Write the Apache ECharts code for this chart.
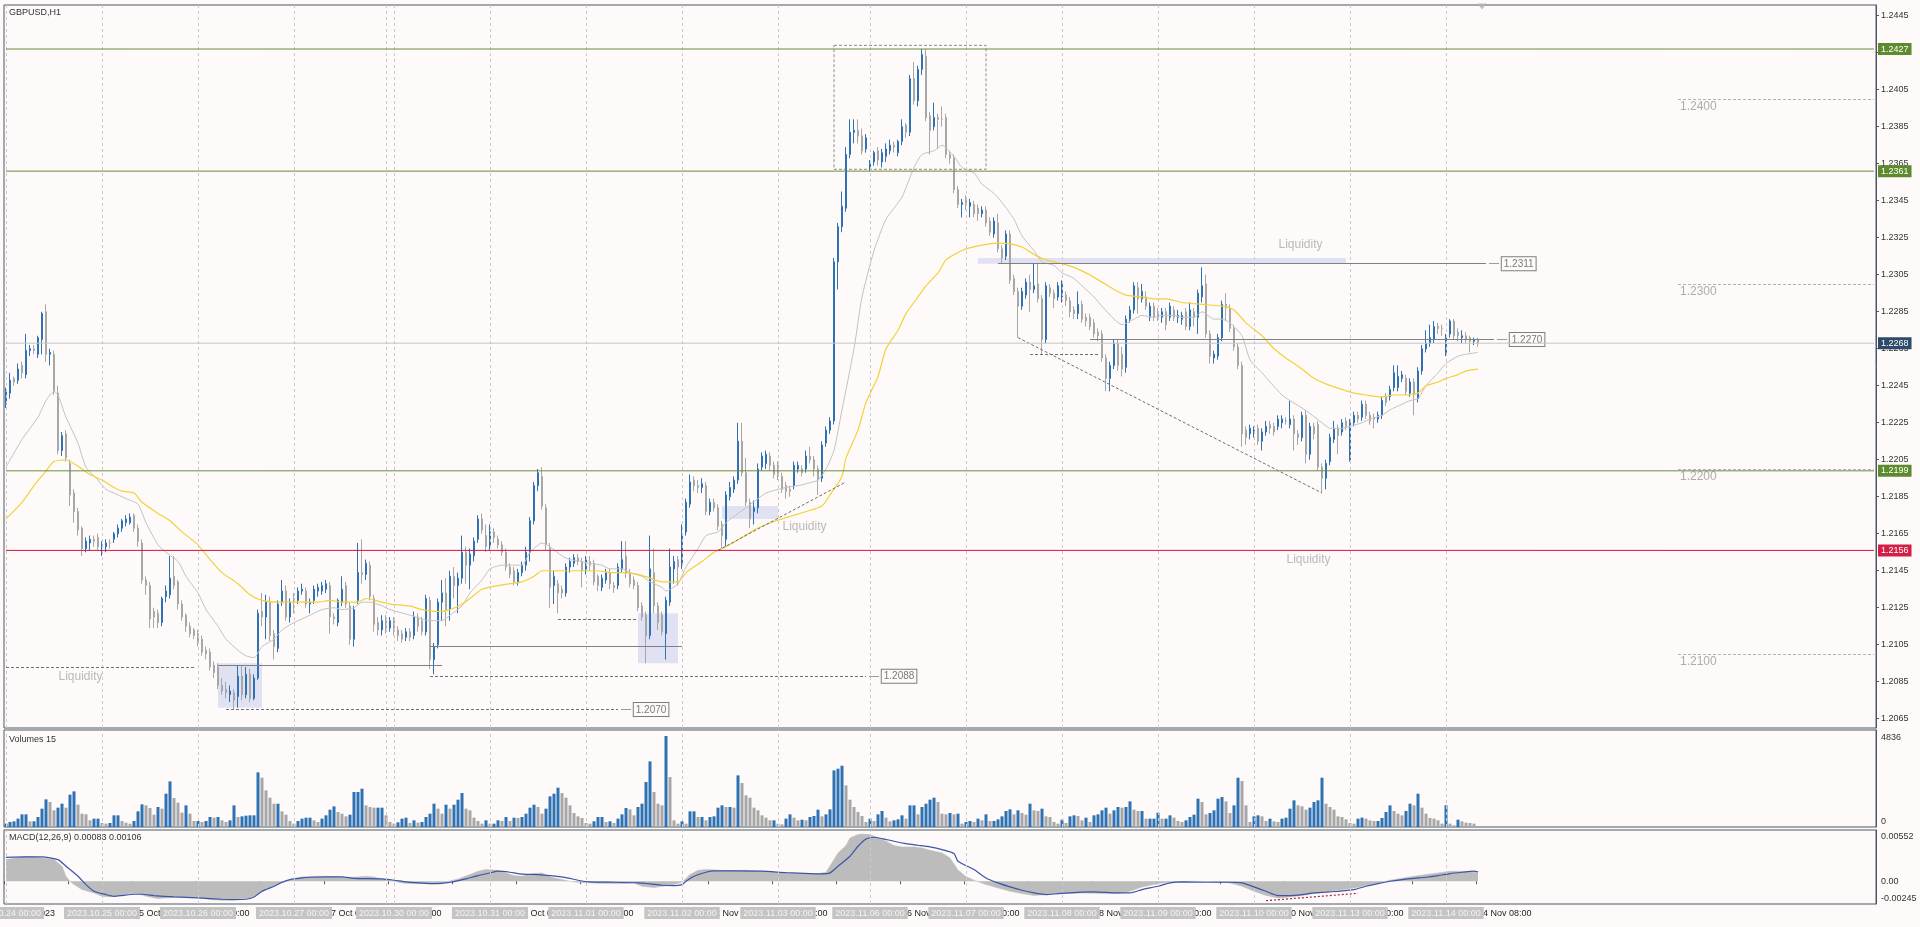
<!DOCTYPE html>
<html><head><meta charset="utf-8">
<script src="https://cdn.jsdelivr.net/npm/echarts@6/dist/echarts.min.js"></script>
<style>html,body{margin:0;padding:0;background:#fefaf9;overflow:hidden}#c{width:1920px;height:927px}</style>
</head><body><div id="c"></div><script>
// ---------- DATA ----------
const symbolTitle = 'GBPUSD,H1';
const volumesTitle = 'Volumes 15';
const macdTitle = 'MACD(12,26,9) 0.00083 0.00106';

// H1 candles: [open, close, low, high]
const ohlc = [
[1.2235,1.2242,1.2233,1.2244],[1.2241,1.2248,1.2238,1.2252],[1.2249,1.2247,1.2245,1.2250],[1.2248,1.2254,1.2246,1.2257],[1.2256,1.2252,1.2249,1.2258],
[1.2251,1.2264,1.2249,1.2273],[1.2264,1.2265,1.2261,1.2267],[1.2265,1.2264,1.2262,1.2267],[1.2262,1.2271,1.2260,1.2272],[1.2270,1.2284,1.2262,1.2285],
[1.2285,1.2262,1.2258,1.2289],[1.2262,1.2263,1.2256,1.2265],[1.2262,1.2242,1.2240,1.2264],[1.2241,1.2210,1.2208,1.2245],[1.2210,1.2218,1.2207,1.2220],
[1.2219,1.2206,1.2204,1.2221],[1.2203,1.2186,1.2180,1.2205],[1.2187,1.2177,1.2171,1.2189],[1.2177,1.2167,1.2164,1.2179],[1.2168,1.2157,1.2153,1.2169],
[1.2157,1.2161,1.2155,1.2163],[1.2160,1.2162,1.2156,1.2164],[1.2162,1.2161,1.2158,1.2164],[1.2163,1.2158,1.2156,1.2165],[1.2158,1.2159,1.2153,1.2161],
[1.2158,1.2160,1.2155,1.2162],[1.2160,1.2160,1.2157,1.2162],[1.2162,1.2165,1.2160,1.2166],[1.2165,1.2168,1.2163,1.2170],[1.2168,1.2172,1.2166,1.2173],
[1.2171,1.2173,1.2169,1.2175],[1.2171,1.2174,1.2170,1.2176],[1.2175,1.2168,1.2166,1.2176],[1.2168,1.2161,1.2158,1.2170],[1.2160,1.2140,1.2138,1.2162],
[1.2140,1.2137,1.2132,1.2142],[1.2137,1.2119,1.2114,1.2139],[1.2123,1.2120,1.2114,1.2125],[1.2122,1.2117,1.2114,1.2124],[1.2117,1.2130,1.2115,1.2131],
[1.2131,1.2134,1.2128,1.2137],[1.2132,1.2141,1.2130,1.2153],[1.2142,1.2137,1.2135,1.2153],[1.2139,1.2127,1.2124,1.2140],[1.2127,1.2120,1.2118,1.2129],
[1.2121,1.2115,1.2112,1.2122],[1.2115,1.2111,1.2109,1.2117],[1.2113,1.2110,1.2108,1.2114],[1.2111,1.2106,1.2104,1.2113],[1.2108,1.2101,1.2099,1.2110],
[1.2102,1.2100,1.2097,1.2104],[1.2101,1.2093,1.2091,1.2103],[1.2094,1.2090,1.2087,1.2096],[1.2093,1.2083,1.2081,1.2095],[1.2083,1.2080,1.2078,1.2087],
[1.2081,1.2079,1.2076,1.2085],[1.2078,1.2080,1.2074,1.2083],[1.2079,1.2075,1.2070,1.2081],[1.2077,1.2088,1.2071,1.2094],[1.2088,1.2078,1.2075,1.2094],
[1.2078,1.2089,1.2076,1.2093],[1.2089,1.2076,1.2074,1.2092],[1.2076,1.2087,1.2075,1.2089],[1.2087,1.2122,1.2086,1.2124],[1.2123,1.2120,1.2115,1.2133],
[1.2120,1.2128,1.2108,1.2132],[1.2128,1.2110,1.2107,1.2131],[1.2111,1.2104,1.2097,1.2113],[1.2103,1.2127,1.2101,1.2129],[1.2128,1.2134,1.2126,1.2140],
[1.2134,1.2120,1.2118,1.2137],[1.2120,1.2128,1.2117,1.2130],[1.2130,1.2128,1.2122,1.2133],[1.2129,1.2134,1.2127,1.2136],[1.2134,1.2135,1.2132,1.2138],
[1.2134,1.2127,1.2125,1.2136],[1.2127,1.2128,1.2122,1.2130],[1.2129,1.2135,1.2127,1.2137],[1.2134,1.2136,1.2131,1.2138],[1.2134,1.2137,1.2132,1.2139],
[1.2135,1.2138,1.2133,1.2140],[1.2137,1.2120,1.2111,1.2139],[1.2120,1.2119,1.2116,1.2122],[1.2117,1.2129,1.2115,1.2130],[1.2128,1.2135,1.2126,1.2142],
[1.2137,1.2127,1.2125,1.2139],[1.2126,1.2108,1.2105,1.2128],[1.2108,1.2124,1.2104,1.2126],[1.2129,1.2144,1.2127,1.2160],[1.2144,1.2143,1.2138,1.2162],
[1.2143,1.2149,1.2140,1.2151],[1.2148,1.2131,1.2129,1.2150],[1.2130,1.2116,1.2112,1.2132],[1.2117,1.2113,1.2110,1.2120],[1.2113,1.2118,1.2110,1.2121],
[1.2118,1.2114,1.2111,1.2121],[1.2114,1.2118,1.2112,1.2120],[1.2118,1.2114,1.2110,1.2120],[1.2113,1.2110,1.2107,1.2115],[1.2111,1.2108,1.2106,1.2113],
[1.2109,1.2112,1.2107,1.2114],[1.2112,1.2109,1.2107,1.2114],[1.2110,1.2120,1.2108,1.2123],[1.2120,1.2115,1.2112,1.2122],[1.2118,1.2112,1.2110,1.2120],
[1.2112,1.2130,1.2110,1.2132],[1.2129,1.2097,1.2092,1.2131],[1.2097,1.2104,1.2089,1.2106],[1.2105,1.2128,1.2103,1.2130],[1.2128,1.2133,1.2118,1.2140],
[1.2133,1.2124,1.2115,1.2141],[1.2124,1.2142,1.2118,1.2145],[1.2142,1.2137,1.2130,1.2147],[1.2137,1.2141,1.2122,1.2144],[1.2141,1.2155,1.2138,1.2164],
[1.2155,1.2148,1.2138,1.2158],[1.2148,1.2154,1.2135,1.2157],[1.2153,1.2161,1.2150,1.2163],[1.2162,1.2173,1.2160,1.2175],[1.2173,1.2167,1.2165,1.2176],
[1.2164,1.2158,1.2155,1.2170],[1.2158,1.2166,1.2156,1.2170],[1.2166,1.2163,1.2160,1.2168],[1.2162,1.2159,1.2157,1.2164],[1.2159,1.2155,1.2153,1.2161],
[1.2155,1.2147,1.2145,1.2157],[1.2147,1.2143,1.2141,1.2149],[1.2145,1.2139,1.2137,1.2147],[1.2139,1.2144,1.2137,1.2146],[1.2144,1.2148,1.2142,1.2150],
[1.2148,1.2155,1.2145,1.2158],[1.2155,1.2172,1.2150,1.2174],[1.2172,1.2191,1.2170,1.2193],[1.2191,1.2198,1.2188,1.2200],[1.2196,1.2180,1.2178,1.2201],
[1.2179,1.2159,1.2156,1.2181],[1.2157,1.2136,1.2125,1.2160],[1.2137,1.2142,1.2127,1.2145],[1.2138,1.2133,1.2122,1.2140],[1.2135,1.2133,1.2130,1.2137],
[1.2133,1.2147,1.2131,1.2149],[1.2147,1.2150,1.2144,1.2152],[1.2149,1.2152,1.2147,1.2154],[1.2152,1.2150,1.2148,1.2154],[1.2150,1.2145,1.2136,1.2152],
[1.2145,1.2151,1.2143,1.2153],[1.2150,1.2148,1.2145,1.2153],[1.2149,1.2139,1.2137,1.2151],[1.2142,1.2137,1.2134,1.2143],[1.2136,1.2141,1.2134,1.2143],
[1.2140,1.2144,1.2138,1.2146],[1.2144,1.2138,1.2135,1.2146],[1.2137,1.2136,1.2133,1.2139],[1.2137,1.2147,1.2135,1.2149],[1.2146,1.2151,1.2144,1.2161],
[1.2153,1.2144,1.2141,1.2161],[1.2144,1.2138,1.2136,1.2146],[1.2140,1.2137,1.2135,1.2142],[1.2137,1.2125,1.2123,1.2139],[1.2126,1.2120,1.2118,1.2128],
[1.2121,1.2110,1.2095,1.2123],[1.2110,1.2146,1.2108,1.2164],[1.2144,1.2126,1.2122,1.2157],[1.2126,1.2117,1.2113,1.2128],[1.2121,1.2112,1.2110,1.2123],
[1.2111,1.2129,1.2097,1.2131],[1.2128,1.2147,1.2126,1.2157],[1.2146,1.2150,1.2138,1.2153],[1.2151,1.2147,1.2137,1.2153],[1.2148,1.2165,1.2146,1.2170],
[1.2166,1.2182,1.2164,1.2184],[1.2181,1.2193,1.2179,1.2197],[1.2194,1.2191,1.2188,1.2196],[1.2191,1.2190,1.2187,1.2194],[1.2190,1.2192,1.2187,1.2195],
[1.2191,1.2177,1.2175,1.2193],[1.2177,1.2182,1.2175,1.2184],[1.2182,1.2179,1.2177,1.2184],[1.2179,1.2169,1.2167,1.2181],[1.2170,1.2164,1.2157,1.2172],
[1.2162,1.2186,1.2158,1.2188],[1.2185,1.2190,1.2183,1.2193],[1.2189,1.2194,1.2187,1.2196],[1.2194,1.2215,1.2192,1.2225],[1.2215,1.2198,1.2196,1.2225],
[1.2198,1.2182,1.2180,1.2206],[1.2182,1.2173,1.2168,1.2184],[1.2177,1.2179,1.2170,1.2183],[1.2179,1.2200,1.2176,1.2203],[1.2201,1.2207,1.2199,1.2209],
[1.2203,1.2208,1.2200,1.2210],[1.2207,1.2202,1.2199,1.2209],[1.2202,1.2197,1.2195,1.2204],[1.2202,1.2196,1.2194,1.2204],[1.2196,1.2189,1.2187,1.2198],
[1.2191,1.2188,1.2184,1.2193],[1.2189,1.2188,1.2185,1.2191],[1.2191,1.2202,1.2189,1.2204],[1.2200,1.2202,1.2198,1.2204],[1.2200,1.2198,1.2196,1.2202],
[1.2200,1.2207,1.2198,1.2210],[1.2207,1.2205,1.2203,1.2212],[1.2205,1.2200,1.2196,1.2207],[1.2200,1.2194,1.2186,1.2202],[1.2195,1.2213,1.2193,1.2215],
[1.2214,1.2221,1.2212,1.2223],[1.2221,1.2226,1.2219,1.2228],[1.2226,1.2312,1.2224,1.2314],[1.2312,1.2331,1.2297,1.2333],[1.2331,1.2342,1.2328,1.2350],
[1.2341,1.2370,1.2339,1.2374],[1.2370,1.2382,1.2368,1.2389],[1.2382,1.2383,1.2376,1.2389],[1.2383,1.2380,1.2376,1.2389],[1.2380,1.2372,1.2370,1.2384],
[1.2373,1.2379,1.2371,1.2381],[1.2362,1.2365,1.2361,1.2367],[1.2366,1.2371,1.2364,1.2372],[1.2372,1.2367,1.2364,1.2374],[1.2366,1.2371,1.2363,1.2373],
[1.2369,1.2373,1.2366,1.2376],[1.2372,1.2375,1.2370,1.2378],[1.2375,1.2374,1.2371,1.2377],[1.2371,1.2377,1.2369,1.2378],[1.2377,1.2385,1.2375,1.2389],
[1.2386,1.2382,1.2379,1.2387],[1.2382,1.2411,1.2380,1.2413],[1.2411,1.2399,1.2397,1.2420],[1.2399,1.2416,1.2396,1.2418],[1.2416,1.2424,1.2413,1.2427],
[1.2423,1.2390,1.2388,1.2427],[1.2391,1.2383,1.2370,1.2393],[1.2385,1.2390,1.2383,1.2398],[1.2390,1.2389,1.2373,1.2392],[1.2389,1.2389,1.2385,1.2396],
[1.2390,1.2370,1.2368,1.2392],[1.2370,1.2368,1.2365,1.2372],[1.2368,1.2351,1.2349,1.2370],[1.2351,1.2343,1.2341,1.2353],[1.2343,1.2344,1.2336,1.2346],
[1.2346,1.2343,1.2340,1.2348],[1.2342,1.2344,1.2336,1.2346],[1.2343,1.2338,1.2336,1.2345],[1.2341,1.2338,1.2334,1.2343],[1.2338,1.2340,1.2336,1.2342],
[1.2340,1.2333,1.2331,1.2342],[1.2334,1.2328,1.2326,1.2336],[1.2327,1.2334,1.2325,1.2336],[1.2333,1.2319,1.2317,1.2338],[1.2319,1.2314,1.2311,1.2321],
[1.2315,1.2327,1.2313,1.2329],[1.2327,1.2302,1.2300,1.2329],[1.2303,1.2296,1.2294,1.2305],[1.2296,1.2288,1.2271,1.2298],[1.2288,1.2296,1.2286,1.2298],
[1.2294,1.2301,1.2292,1.2303],[1.2301,1.2297,1.2285,1.2305],[1.2297,1.2299,1.2295,1.2311],[1.2300,1.2292,1.2290,1.2311],[1.2292,1.2270,1.2262,1.2294],
[1.2270,1.2299,1.2268,1.2301],[1.2298,1.2295,1.2293,1.2300],[1.2295,1.2292,1.2287,1.2297],[1.2293,1.2299,1.2291,1.2301],[1.2293,1.2300,1.2290,1.2302],
[1.2294,1.2291,1.2288,1.2296],[1.2291,1.2285,1.2282,1.2293],[1.2286,1.2284,1.2281,1.2288],[1.2284,1.2289,1.2281,1.2296],[1.2289,1.2281,1.2279,1.2291],
[1.2282,1.2280,1.2277,1.2284],[1.2282,1.2277,1.2275,1.2284],[1.2279,1.2273,1.2271,1.2281],[1.2274,1.2272,1.2269,1.2276],[1.2273,1.2260,1.2258,1.2275],
[1.2260,1.2249,1.2242,1.2262],[1.2249,1.2256,1.2242,1.2258],[1.2256,1.2268,1.2254,1.2270],[1.2268,1.2256,1.2253,1.2270],[1.2262,1.2254,1.2250,1.2266],
[1.2255,1.2281,1.2252,1.2283],[1.2281,1.2286,1.2279,1.2288],[1.2286,1.2299,1.2284,1.2301],[1.2298,1.2292,1.2284,1.2301],[1.2292,1.2296,1.2290,1.2300],
[1.2293,1.2288,1.2286,1.2296],[1.2282,1.2288,1.2280,1.2290],[1.2288,1.2282,1.2280,1.2290],[1.2285,1.2282,1.2280,1.2287],[1.2282,1.2285,1.2279,1.2287],
[1.2285,1.2278,1.2275,1.2287],[1.2282,1.2288,1.2280,1.2290],[1.2286,1.2282,1.2280,1.2288],[1.2282,1.2283,1.2279,1.2286],[1.2281,1.2283,1.2278,1.2285],
[1.2285,1.2277,1.2275,1.2287],[1.2277,1.2286,1.2275,1.2290],[1.2285,1.2282,1.2277,1.2287],[1.2282,1.2295,1.2273,1.2297],[1.2293,1.2299,1.2290,1.2309],
[1.2300,1.2273,1.2271,1.2305],[1.2273,1.2261,1.2257,1.2275],[1.2260,1.2262,1.2257,1.2264],[1.2261,1.2271,1.2259,1.2273],[1.2271,1.2289,1.2269,1.2291],
[1.2289,1.2287,1.2280,1.2295],[1.2287,1.2276,1.2274,1.2289],[1.2276,1.2266,1.2264,1.2278],[1.2266,1.2256,1.2254,1.2268],[1.2256,1.2219,1.2212,1.2258],
[1.2221,1.2217,1.2213,1.2223],[1.2219,1.2222,1.2216,1.2224],[1.2220,1.2221,1.2217,1.2223],[1.2222,1.2215,1.2213,1.2224],[1.2215,1.2220,1.2210,1.2222],
[1.2220,1.2223,1.2218,1.2226],[1.2224,1.2222,1.2219,1.2226],[1.2223,1.2220,1.2218,1.2225],[1.2223,1.2227,1.2221,1.2229],[1.2225,1.2227,1.2222,1.2229],
[1.2226,1.2226,1.2224,1.2228],[1.2224,1.2227,1.2222,1.2237],[1.2227,1.2219,1.2210,1.2229],[1.2219,1.2217,1.2213,1.2221],[1.2217,1.2229,1.2215,1.2231],
[1.2229,1.2208,1.2203,1.2232],[1.2208,1.2223,1.2205,1.2225],[1.2223,1.2219,1.2216,1.2225],[1.2224,1.2201,1.2199,1.2226],[1.2201,1.2195,1.2187,1.2203],
[1.2195,1.2203,1.2189,1.2205],[1.2204,1.2217,1.2202,1.2219],[1.2216,1.2222,1.2214,1.2226],[1.2222,1.2218,1.2208,1.2224],[1.2220,1.2225,1.2218,1.2227],
[1.2226,1.2223,1.2221,1.2228],[1.2205,1.2225,1.2204,1.2227],[1.2225,1.2229,1.2223,1.2231],[1.2229,1.2227,1.2225,1.2231],[1.2228,1.2235,1.2226,1.2237],
[1.2235,1.2229,1.2227,1.2237],[1.2229,1.2226,1.2224,1.2231],[1.2228,1.2227,1.2222,1.2230],[1.2227,1.2229,1.2225,1.2231],[1.2229,1.2237,1.2227,1.2239],
[1.2239,1.2236,1.2234,1.2241],[1.2239,1.2243,1.2237,1.2245],[1.2244,1.2252,1.2242,1.2256],[1.2244,1.2250,1.2242,1.2256],[1.2249,1.2251,1.2247,1.2253],
[1.2249,1.2242,1.2240,1.2251],[1.2241,1.2247,1.2239,1.2249],[1.2247,1.2240,1.2229,1.2249],[1.2238,1.2253,1.2236,1.2255],[1.2253,1.2265,1.2251,1.2267],
[1.2265,1.2268,1.2263,1.2275],[1.2268,1.2271,1.2266,1.2278],[1.2270,1.2277,1.2268,1.2280],[1.2277,1.2276,1.2273,1.2279],[1.2276,1.2276,1.2272,1.2278],
[1.2263,1.2271,1.2261,1.2273],[1.2273,1.2280,1.2271,1.2281],[1.2280,1.2272,1.2270,1.2281],[1.2274,1.2272,1.2269,1.2276],[1.2271,1.2272,1.2268,1.2275],
[1.2272,1.2270,1.2268,1.2274],[1.2271,1.2269,1.2263,1.2272],[1.2269,1.2270,1.2267,1.2271],[1.2270,1.2268,1.2266,1.2271]
];

// tick volumes per bar
const volumes = [
177,266,301,443,673,673,301,301,531,974,1469,1328,885,1027,1239,1027,1717,1894,1186,708,
673,354,443,443,212,177,212,620,620,319,230,177,319,832,1204,1151,1009,655,1062,974,
1770,2425,1540,1292,761,1151,708,319,319,266,319,531,496,531,354,266,354,1151,531,566,
602,620,620,2903,2620,1947,1558,1239,1239,832,655,319,177,319,443,496,496,354,266,443,
620,920,1097,797,708,566,655,1859,1859,2036,1151,1062,1027,1027,1027,620,266,177,248,443,
496,212,354,230,266,531,708,1239,974,708,1186,974,1186,1451,1805,974,885,496,319,177,
354,177,177,354,319,531,319,496,478,531,708,1027,1186,1062,708,974,1628,1770,2089,1805,
1558,1151,743,566,478,212,177,301,531,531,266,301,212,443,673,1009,938,620,1062,1239,
2390,3487,1859,1239,1151,4836,2655,354,177,301,177,832,832,531,531,354,531,566,1027,1151,
1062,1062,1027,2744,2336,1682,1558,1027,885,620,496,354,354,177,142,443,673,496,354,389,
354,531,584,920,566,673,938,3009,3098,3257,2213,1451,1062,797,584,266,443,319,673,850,
496,301,354,407,620,443,1151,1151,673,1062,1239,1451,1558,1328,708,673,743,673,708,177,
266,319,266,443,354,673,319,319,407,566,850,938,673,885,743,655,1239,885,850,974,
566,531,266,177,389,212,566,620,584,354,496,266,620,673,885,1027,708,885,1062,1027,
1062,1363,920,850,850,443,443,443,761,443,443,620,496,319,266,354,531,655,1505,1328,
673,743,885,1505,1593,1363,743,1151,2620,2443,1151,266,566,620,566,319,443,301,266,443,
496,974,1416,1151,1097,920,1027,1328,1416,2620,1239,1062,920,566,531,407,212,177,443,496,
443,354,319,319,478,797,1151,850,708,620,850,1239,1151,1770,1027,708,478,443,354,177,
1151,177,89,389,301,230,212,177,35
];

// moving averages: [bar, price]
const maFast = [[0,1.2201],[4,1.2216],[8,1.2228],[10,1.2237],[12,1.2242],[13,1.2240],[15,1.2228],[18,1.2214],[20,1.2201],[23,1.2194],[25,1.2189],[28,1.2186],[30,1.2184],[33,1.2181],[35,1.2171],[38,1.2159],[40,1.2155],[43,1.2150],[45,1.2142],[48,1.2133],[50,1.2124],[53,1.2115],[55,1.2108],[58,1.2102],[60,1.2099],[62,1.2098],[64,1.2104],[67,1.2108],[69,1.2113],[72,1.2117],[74,1.2119],[77,1.2122],[79,1.2124],[82,1.2125],[84,1.2124],[87,1.2125],[89,1.2128],[91,1.2128],[94,1.2126],[96,1.2124],[101,1.2121],[106,1.2118],[109,1.2118],[111,1.2121],[114,1.2126],[116,1.2133],[119,1.2140],[121,1.2146],[124,1.2148],[126,1.2148],[129,1.2148],[131,1.2155],[134,1.2160],[136,1.2158],[139,1.2153],[141,1.2151],[144,1.2150],[146,1.2149],[149,1.2148],[151,1.2146],[154,1.2146],[156,1.2144],[159,1.2142],[161,1.2139],[164,1.2136],[165,1.2134],[168,1.2138],[170,1.2147],[173,1.2157],[175,1.2164],[178,1.2166],[180,1.2171],[183,1.2176],[185,1.2179],[188,1.2184],[190,1.2187],[193,1.2189],[195,1.2190],[198,1.2191],[200,1.2192],[203,1.2194],[205,1.2200],[207,1.2210],[209,1.2232],[212,1.2265],[214,1.2293],[217,1.2318],[220,1.2335],[224,1.2347],[227,1.2363],[229,1.2370],[232,1.2372],[234,1.2375],[237,1.2369],[239,1.2363],[242,1.2360],[244,1.2354],[247,1.2349],[249,1.2344],[252,1.2335],[254,1.2326],[257,1.2318],[259,1.2312],[262,1.2310],[264,1.2306],[267,1.2303],[269,1.2299],[272,1.2293],[274,1.2288],[277,1.2281],[279,1.2278],[282,1.2281],[284,1.2283],[287,1.2282],[289,1.2283],[292,1.2283],[294,1.2282],[297,1.2282],[299,1.2285],[302,1.2281],[304,1.2281],[306,1.2279],[309,1.2272],[311,1.2259],[314,1.2252],[316,1.2247],[319,1.2240],[321,1.2237],[324,1.2233],[326,1.2230],[329,1.2225],[331,1.2222],[334,1.2222],[336,1.2223],[339,1.2225],[341,1.2227],[344,1.2229],[346,1.2232],[349,1.2235],[351,1.2237],[353,1.2238],[355,1.2245],[358,1.2252],[360,1.2257],[363,1.2261],[365,1.2262],[368,1.2263]];
const maSlow = [[0,1.2173],[4,1.2182],[7,1.2191],[10,1.2199],[12,1.2204],[15,1.2205],[19,1.2200],[21,1.2197],[24,1.2194],[27,1.2190],[29,1.2188],[32,1.2187],[34,1.2182],[38,1.2176],[41,1.2172],[44,1.2166],[48,1.2159],[51,1.2151],[54,1.2144],[58,1.2138],[61,1.2132],[64,1.2129],[68,1.2128],[71,1.2128],[74,1.2128],[78,1.2128],[81,1.2129],[84,1.2128],[88,1.2128],[90,1.2130],[94,1.2128],[96,1.2127],[101,1.2126],[104,1.2124],[108,1.2123],[111,1.2124],[114,1.2127],[116,1.2130],[119,1.2135],[123,1.2137],[126,1.2138],[129,1.2139],[132,1.2142],[134,1.2145],[138,1.2145],[141,1.2145],[144,1.2145],[148,1.2145],[151,1.2144],[154,1.2144],[158,1.2143],[161,1.2141],[164,1.2139],[168,1.2139],[170,1.2144],[174,1.2150],[177,1.2155],[180,1.2158],[184,1.2163],[187,1.2167],[190,1.2170],[194,1.2173],[197,1.2175],[200,1.2177],[204,1.2180],[206,1.2186],[209,1.2196],[210,1.2206],[213,1.2221],[215,1.2236],[218,1.2250],[220,1.2265],[223,1.2275],[225,1.2284],[228,1.2293],[230,1.2299],[233,1.2306],[235,1.2313],[238,1.2317],[240,1.2319],[244,1.2321],[247,1.2322],[250,1.2322],[254,1.2320],[257,1.2316],[260,1.2313],[264,1.2311],[267,1.2309],[270,1.2306],[274,1.2301],[277,1.2297],[280,1.2294],[284,1.2293],[287,1.2292],[290,1.2292],[294,1.2290],[299,1.2289],[304,1.2288],[307,1.2286],[310,1.2279],[314,1.2272],[317,1.2265],[320,1.2260],[324,1.2254],[327,1.2249],[330,1.2246],[334,1.2243],[337,1.2241],[340,1.2240],[344,1.2239],[347,1.2240],[350,1.2240],[353,1.2241],[355,1.2245],[358,1.2247],[360,1.2249],[363,1.2251],[365,1.2253],[368,1.2254]];

// MACD main (histogram) and signal line: [bar, value]
const macdMain = [[0,0.00233],[5,0.00269],[9,0.00251],[12,0.00233],[14,0.00162],[15,0.00054],[16,0],[17,-0.00036],[19,-0.00090],[22,-0.00126],[24,-0.00162],[26,-0.00169],[28,-0.00154],[31,-0.00133],[33,-0.00133],[35,-0.00162],[38,-0.00187],[40,-0.00180],[43,-0.00169],[46,-0.00169],[49,-0.00180],[51,-0.00197],[54,-0.00205],[56,-0.00205],[58,-0.00190],[61,-0.00180],[63,-0.00133],[65,-0.00090],[67,-0.00047],[70,-0.00004],[72,0.00025],[74,0.00047],[77,0.00054],[80,0.00054],[83,0.00047],[85,0.00036],[87,0.00043],[90,0.00054],[92,0.00047],[94,0.00025],[97,0],[99,-0.00018],[101,-0.00025],[104,-0.00025],[107,-0.00018],[109,-0.00018],[111,0.00004],[113,0.00025],[116,0.00072],[118,0.00108],[120,0.00126],[123,0.00118],[125,0.00090],[127,0.00061],[129,0.00054],[132,0.00083],[134,0.00090],[136,0.00047],[139,0.00018],[141,0],[143,-0.00011],[146,-0.00018],[150,-0.00025],[155,-0.00025],[157,-0.00018],[159,-0.00054],[162,-0.00068],[164,-0.00054],[166,-0.00047],[169,-0.00011],[171,0.00072],[173,0.00118],[175,0.00126],[180,0.00115],[185,0.00118],[189,0.00108],[194,0.00090],[198,0.00083],[203,0.00083],[205,0.00097],[207,0.00233],[208,0.00305],[210,0.00384],[211,0.00467],[213,0.00503],[214,0.00510],[216,0.00503],[218,0.00467],[220,0.00431],[222,0.00384],[224,0.00370],[227,0.00370],[229,0.00359],[231,0.00334],[234,0.00305],[236,0.00251],[238,0.00120],[240,0.00050],[242,0.00011],[245,-0.00036],[248,-0.00072],[251,-0.00108],[254,-0.00133],[257,-0.00154],[260,-0.00144],[263,-0.00133],[269,-0.00126],[275,-0.00133],[278,-0.00133],[281,-0.00108],[284,-0.00061],[288,-0.00025],[291,-0.00011],[294,-0.00004],[297,0],[300,-0.00004],[303,-0.00011],[306,-0.00018],[309,-0.00054],[312,-0.00108],[315,-0.00154],[318,-0.00180],[321,-0.00169],[324,-0.00154],[327,-0.00133],[330,-0.00118],[333,-0.00097],[337,-0.00072],[340,-0.00047],[343,-0.00018],[346,0.00011],[349,0.00032],[352,0.00054],[355,0.00072],[358,0.00090],[361,0.00108],[364,0.00108],[367,0.00097],[368,0.00090]];
const macdSignal = [[0,0.00258],[5,0.00262],[9,0.00262],[13,0.00233],[15,0.00162],[18,0.00054],[20,-0.00036],[22,-0.00108],[25,-0.00144],[27,-0.00162],[29,-0.00154],[32,-0.00140],[34,-0.00140],[37,-0.00154],[42,-0.00169],[48,-0.00180],[54,-0.00194],[57,-0.00197],[60,-0.00194],[62,-0.00169],[64,-0.00108],[67,-0.00054],[69,-0.00011],[71,0.00018],[74,0.00036],[76,0.00043],[81,0.00047],[84,0.00047],[87,0.00032],[94,0.00025],[97,0.00011],[100,-0.00007],[103,-0.00018],[106,-0.00025],[109,-0.00022],[112,-0.00004],[115,0.00025],[118,0.00061],[121,0.00090],[123,0.00108],[126,0.00097],[128,0.00083],[130,0.00075],[133,0.00072],[136,0.00061],[140,0.00039],[143,0.00011],[146,-0.00007],[152,-0.00011],[158,-0.00018],[161,-0.00029],[164,-0.00043],[167,-0.00047],[169,-0.00036],[170,0],[172,0.00054],[175,0.00097],[177,0.00111],[182,0.00111],[189,0.00108],[195,0.00093],[201,0.00083],[204,0.00079],[206,0.00090],[208,0.00162],[211,0.00269],[213,0.00377],[215,0.00456],[217,0.00474],[219,0.00460],[222,0.00431],[225,0.00406],[228,0.00388],[231,0.00370],[234,0.00341],[237,0.00298],[238,0.00215],[242,0.00126],[245,0.00036],[248,-0.00018],[251,-0.00061],[254,-0.00097],[257,-0.00126],[260,-0.00144],[263,-0.00133],[269,-0.00118],[272,-0.00115],[278,-0.00126],[281,-0.00126],[284,-0.00090],[288,-0.00054],[291,-0.00018],[294,-0.00007],[300,-0.00011],[306,-0.00011],[309,-0.00018],[312,-0.00061],[315,-0.00108],[318,-0.00154],[321,-0.00154],[324,-0.00144],[327,-0.00126],[330,-0.00118],[333,-0.00108],[337,-0.00090],[340,-0.00054],[343,-0.00025],[346,0],[349,0.00018],[352,0.00032],[355,0.00043],[358,0.00061],[361,0.00083],[364,0.00097],[367,0.00108],[368,0.00101]];

// axis ticks / labels
const priceTicks = [1.2445,1.2425,1.2405,1.2385,1.2365,1.2345,1.2325,1.2305,1.2285,1.2265,1.2245,1.2225,1.2205,1.2185,1.2165,1.2145,1.2125,1.2105,1.2085,1.2065];
const volumeTicks = [0,4836];
const macdTicks = [0.00552,0,-0.00245];
const dayIndex = [0,24,48,72,97,121,145,169,193,216,240,264,288,312,336,360];
const dayDates = ['2023.10.24','2023.10.25','2023.10.26','2023.10.27','2023.10.30','2023.10.31','2023.11.01','2023.11.02','2023.11.03','2023.11.06','2023.11.07','2023.11.08','2023.11.09','2023.11.10','2023.11.13','2023.11.14'];
const extraGridIndex = [95];

// drawn objects on the price chart
const levelLines = [
  {price:1.2427, line:'#6d8d3d', box:'#5d8a2c', text:'#ffffff'},
  {price:1.2361, line:'#6d8d3d', box:'#5d8a2c', text:'#ffffff'},
  {price:1.2199, line:'#6d8d3d', box:'#5d8a2c', text:'#ffffff'},
  {price:1.2156, line:'#d2143c', box:'#d11f45', text:'#ffffff'},
  {price:1.2268, line:'#c6c6c6', box:'#2d4a68', text:'#ffffff'}
];
const levelFrom = 0, levelTo = 467;
const segments = [ // from [bar, price] to [bar, price]
  {from:[248,1.2311], to:[370,1.2311], dash:false, tag:'1.2311'},
  {from:[271,1.2270], to:[372,1.2270], dash:false, tag:'1.2270'},
  {from:[106,1.2088], to:[215,1.2088], dash:true,  tag:'1.2088'},
  {from:[55,1.2070],  to:[153,1.2070], dash:true,  tag:'1.2070'},
  {from:[53,1.2094],  to:[109,1.2094], dash:false},
  {from:[106,1.2104], to:[169,1.2104], dash:false},
  {from:[0,1.2093],   to:[47,1.2093],  dash:true},
  {from:[138,1.2119], to:[158,1.2119], dash:true},
  {from:[256,1.2262], to:[273,1.2262], dash:true},
  {from:[253,1.2271], to:[329,1.2187], dash:true},
  {from:[178,1.2156], to:[210,1.2193], dash:true}
];
const roundLevels = [1.2400,1.2300,1.2200,1.2100];
const roundFrom = 418, roundTo = 467;
const liquidityZones = [[243,1.2314,335,1.2311],[53,1.2095,64,1.2071],[158,1.2122,168,1.2095],[179,1.2180,193,1.2173]];
const peakBox = [207,1.2429,245,1.2362];
const liquidityNotes = [[13,1.2088],[194,1.2169],[318,1.2321],[320,1.2151]];
const shiftMarker = [[369,1.2450]];
const divergence = {from:[315,-0.00209], to:[338,-0.00130]};

// ---------- CHART ----------
const N = 468;
const cats = Array.from({length:N}, (_, i) => i);
const FONT = '"Liberation Sans", Arial, sans-serif';
const BLUE = '#2f72b3', GREY = '#a7a7a7', FRAME = '#4a5866', BG = '#fefaf9';
const MON = {'10':'Oct','11':'Nov'};

function timeLabel(k){
  let d = 0;
  for (let j = 0; j < dayIndex.length; j++) if (dayIndex[j] <= k) d = j;
  const p = dayDates[d].split('.');
  if (k === 0) return p[2] + ' ' + MON[p[1]] + ' ' + p[0];
  const h = Math.min(23, k - dayIndex[d]);
  return p[2] + ' ' + MON[p[1]] + ' ' + String(h).padStart(2,'0') + ':00';
}
const lastBar = ohlc.length - 1;
const timeTickFn = (i) => i % 16 === 0 && i <= lastBar;

function gridLineMarks(){
  return {
    silent:true, symbol:['none','none'], animation:false, precision:6,
    label:{show:false},
    lineStyle:{color:'#cbcbcb', type:[3,3], width:1},
    data: dayIndex.concat(extraGridIndex).map(i => ({xAxis:i}))
  };
}

// full-width price levels: drawn as two-point lines through the axes, labelled at the right end
const levelSeries = levelLines.map(l => ({
  type:'line', xAxisIndex:0, yAxisIndex:0, z:7, silent:true,
  data:[[levelFrom, l.price], [levelTo, l.price]],
  showSymbol:false, symbol:'none', clip:false,
  lineStyle:{color:l.line, width:1, type:'solid', opacity:1},
  itemStyle:{color:l.line},
  endLabel:{show:true, distance:4, formatter:l.price.toFixed(4),
    backgroundColor:l.box, color:l.text, fontSize:9, fontFamily:FONT, padding:[2,3,1,3]}
}));

const mlData = [];
segments.forEach(s => {
  const first = {coord:s.from, lineStyle:{color: s.dash ? '#707070' : '#808080', width:1, type: s.dash ? [3,2] : 'solid'}};
  if (s.tag) {
    first.label = {show:true, position:'end', distance:3, formatter:'{d|— }{b|' + s.tag + '}',
      rich:{d:{color:'#808080', fontSize:10, fontFamily:FONT},
            b:{color:'#7a7a7a', fontSize:10, fontFamily:FONT, borderColor:'#7d7d7d', borderWidth:1, padding:[2,2,1,2], backgroundColor:BG}}};
  } else first.label = {show:false};
  mlData.push([first, {coord:s.to}]);
});
roundLevels.forEach(p => mlData.push([
  {coord:[roundFrom,p], lineStyle:{color:'#b3b3b3', width:1, type:[3,2]},
   label:{show:true, position:'insideStartBottom', distance:2, formatter:p.toFixed(4), color:'#acacac', fontSize:12, fontFamily:FONT}},
  {coord:[roundTo,p]}
]));

const maData = [];
liquidityZones.forEach(z => maData.push([
  {coord:[z[0],z[1]], itemStyle:{color:'rgba(205,208,240,0.6)'}},
  {coord:[z[2],z[3]]}
]));
maData.push([
  {coord:[peakBox[0],peakBox[1]], itemStyle:{color:'rgba(0,0,0,0)', borderColor:'#8c8c8c', borderWidth:1, borderType:[3,2]}},
  {coord:[peakBox[2],peakBox[3]]}
]);

const volData = volumes.map((v,i) => ({value:v, itemStyle:{color: (i > 0 && v < volumes[i-1]) ? GREY : BLUE}}));

const baseX = {type:'category', data:cats, boundaryGap:true, position:'bottom', axisLine:{show:false}, axisTick:{show:false}, axisLabel:{show:false}, splitLine:{show:false}};
const gridBase = {left:4, width:1872, show:true, borderColor:FRAME, borderWidth:1, backgroundColor:'transparent', containLabel:false, outerBoundsMode:'none'};

const option = {
  animation:false,
  backgroundColor:BG,
  textStyle:{fontFamily:FONT},
  title:[
    {text:symbolTitle, left:9, top:8, padding:0, textStyle:{fontSize:9, fontWeight:'normal', color:'#333', fontFamily:FONT}},
    {text:volumesTitle, left:9, top:735, padding:0, textStyle:{fontSize:9, fontWeight:'normal', color:'#333', fontFamily:FONT}},
    {text:macdTitle, left:9, top:833, padding:0, textStyle:{fontSize:9, fontWeight:'normal', color:'#333', fontFamily:FONT}}
  ],
  grid:[
    Object.assign({}, gridBase, {top:5, height:723}),
    Object.assign({}, gridBase, {top:730, height:97}),
    Object.assign({}, gridBase, {top:830, height:74})
  ],
  xAxis:[
    Object.assign({}, baseX, {gridIndex:0}),
    Object.assign({}, baseX, {gridIndex:1}),
    Object.assign({}, baseX, {gridIndex:2, z:1,
      axisTick:{show:true, interval:timeTickFn, length:3, lineStyle:{color:'#555'}},
      axisLabel:{show:true, interval:timeTickFn, formatter:(v) => timeLabel(+v), align:'left', alignMinLabel:'left', fontSize:9, color:'#222', margin:5, fontFamily:FONT}}),
    Object.assign({}, baseX, {gridIndex:2, z:3, offset:0,
      axisLabel:{show:true, interval:(i) => dayIndex.indexOf(i) >= 0, formatter:(v) => dayDates[dayIndex.indexOf(+v)] + ' 00:00',
        align:'center', alignMinLabel:'center', alignMaxLabel:'center',
        backgroundColor:'#c4c4c4', color:'#f4f4f4', fontSize:9, padding:[2,3,1,3], margin:3, fontFamily:FONT}})
  ],
  yAxis:[
    {type:'value', gridIndex:0, position:'right', min:1.2060, max:1.24508, splitLine:{show:false},
      axisLine:{show:true, lineStyle:{color:FRAME}},
      axisTick:{show:true, customValues:priceTicks, length:3, lineStyle:{color:'#555'}},
      axisLabel:{customValues:priceTicks, formatter:(v) => v.toFixed(4), fontSize:9, color:'#333', margin:5, fontFamily:FONT}},
    {type:'value', gridIndex:1, position:'right', min:0, max:5155, splitLine:{show:false},
      axisLine:{show:true, lineStyle:{color:FRAME}}, axisTick:{show:false},
      axisLabel:{customValues:volumeTicks, fontSize:9, color:'#333', margin:5, fontFamily:FONT,
        formatter:(v) => v === 0 ? '{lo|0}' : '{hi|' + v + '}',
        rich:{lo:{fontSize:9, color:'#333', padding:[0,0,10,0]}, hi:{fontSize:9, color:'#333', padding:[4,0,0,0]}}}},
    {type:'value', gridIndex:2, position:'right', min:-0.00245, max:0.00552, splitLine:{show:false},
      axisLine:{show:true, lineStyle:{color:FRAME}}, axisTick:{show:false},
      axisLabel:{customValues:macdTicks, fontSize:9, color:'#333', margin:5, fontFamily:FONT,
        formatter:(v) => v === 0 ? '0.00' : (v > 0 ? '{hi|' + v.toFixed(5) + '}' : '{lo|' + v.toFixed(5) + '}'),
        rich:{lo:{fontSize:9, color:'#333', padding:[0,0,10,0]}, hi:{fontSize:9, color:'#333', padding:[13,0,0,0]}}}}
  ],
  series:[
    {type:'line', xAxisIndex:0, yAxisIndex:0, data:[], z:1, markLine:gridLineMarks()},
    {type:'line', xAxisIndex:1, yAxisIndex:1, data:[], z:1, markLine:gridLineMarks()},
    {type:'line', xAxisIndex:2, yAxisIndex:2, data:[], z:1, markLine:gridLineMarks()},
    {type:'candlestick', xAxisIndex:0, yAxisIndex:0, data:ohlc, barWidth:2, z:3,
      itemStyle:{color:BLUE, color0:GREY, borderColor:BLUE, borderColor0:GREY, borderColorDoji:GREY, borderWidth:1},
      markLine:{silent:true, symbol:['none','none'], animation:false, precision:6, data:mlData},
      markArea:{silent:true, animation:false, data:maData}},
    {type:'line', xAxisIndex:0, yAxisIndex:0, data:maFast, showSymbol:false, smooth:0.2, z:4,
      lineStyle:{color:'#c2c2c2', width:1}},
    {type:'line', xAxisIndex:0, yAxisIndex:0, data:maSlow, showSymbol:false, smooth:0.2, z:4,
      lineStyle:{color:'#f0d23c', width:1.2}},
    {type:'scatter', xAxisIndex:0, yAxisIndex:0, data:liquidityNotes, symbolSize:1, z:5,
      itemStyle:{color:'rgba(0,0,0,0)'},
      label:{show:true, position:'right', distance:0, formatter:'Liquidity', color:'#a9a9a9', fontSize:12, fontFamily:FONT}},
    {type:'scatter', xAxisIndex:0, yAxisIndex:0, data:shiftMarker, symbol:'triangle', symbolRotate:180, symbolSize:[9,6], z:5,
      itemStyle:{color:'#b3b3b3'}},
    {type:'bar', xAxisIndex:1, yAxisIndex:1, data:volData, barWidth:3, z:3},
    {type:'line', xAxisIndex:2, yAxisIndex:2, data:macdMain, showSymbol:false, z:2,
      lineStyle:{color:'#bcbcbc', width:0.5}, areaStyle:{color:'#bcbcbc', opacity:1}},
    {type:'line', xAxisIndex:2, yAxisIndex:2, data:macdSignal, showSymbol:false, smooth:0.2, z:4,
      lineStyle:{color:'#3a55a8', width:1.2},
      markLine:{silent:true, symbol:['none','none'], animation:false, precision:6, label:{show:false},
        data:[[{coord:divergence.from, lineStyle:{color:'#b0203a', type:[2,2], width:1.2}}, {coord:divergence.to}]]}}
  ].concat(levelSeries)
};
const chart = echarts.init(document.getElementById('c'));
chart.setOption(option);
</script></body></html>
